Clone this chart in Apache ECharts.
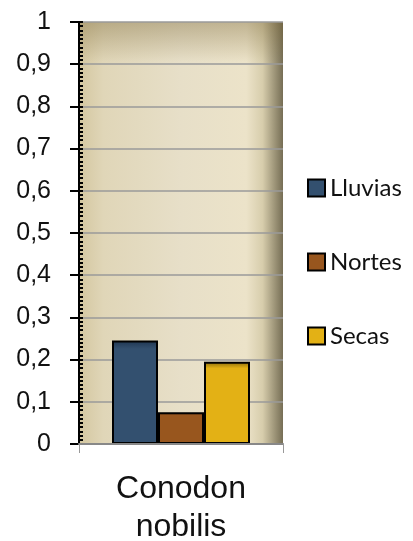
<!DOCTYPE html>
<html>
<head>
<meta charset="utf-8">
<script src="https://cdn.jsdelivr.net/npm/echarts@6/dist/echarts.min.js"></script>
<style>
  html, body { margin: 0; padding: 0; background: #fff; }
  #chart { width: 413px; height: 541px; }
</style>
</head>
<body>
<div id="chart"></div>
<script>
// data
const categories = ["Conodon\nnobilis"];
const seriesNames = ["Lluvias", "Nortes", "Secas"];
const lluvias = [0.245];
const nortes = [0.075];
const secas = [0.195];
const yTicks = [0, 0.1, 0.2, 0.3, 0.4, 0.5, 0.6, 0.7, 0.8, 0.9, 1];

const G = echarts.graphic.LinearGradient;

// bar fill: darker band at the top, like the original bevel
function barFill(top, body) {
  return new G(0, 0, 0, 1, [
    { offset: 0, color: top },
    { offset: 0.08, color: body },
    { offset: 1, color: body },
  ]);
}

const chart = echarts.init(document.getElementById("chart"));

const grid = { left: 79, right: 130, top: 22, bottom: 97 };

const option = {
  animation: false,
  textStyle: { fontFamily: "Liberation Sans, Arial, sans-serif" },
  graphic: [
    {
      // darker band along the top of the plot
      type: "rect",
      z: 0,
      silent: true,
      shape: { x: grid.left, y: grid.top, width: 413 - grid.left - grid.right, height: 40 },
      style: {
        fill: new G(0, 0, 0, 1, [
          { offset: 0, color: "rgba(110,90,40,0.35)" },
          { offset: 1, color: "rgba(110,90,40,0)" },
        ]),
      },
    },
  ],
  grid: {
    ...grid,
    outerBoundsMode: "none",
    containLabel: false,
    show: true,
    borderWidth: 0,
    backgroundColor: new G(0, 0, 1, 0, [
      { offset: 0, color: "#d4c7a0" },
      { offset: 0.12, color: "#e0d6b8" },
      { offset: 0.5, color: "#e7dfc8" },
      { offset: 0.82, color: "#ece3c9" },
      { offset: 0.9, color: "#d7cdac" },
      { offset: 1, color: "#766e55" },
    ]),
  },
  legend: {
    orient: "vertical",
    left: 302,
    top: 171,
    itemGap: 50,
    itemWidth: 17,
    itemHeight: 17,
    icon: "rect",
    data: seriesNames,
    textStyle: { fontFamily: "Lato, sans-serif", fontSize: 24, color: "#111", padding: [0, 0, 0, 0] },
  },
  xAxis: {
    type: "category",
    data: categories,
    axisLine: { lineStyle: { color: "#888", width: 2 } },
    axisTick: { show: true, length: 9, lineStyle: { color: "#999", width: 1 } },
    axisLabel: { fontSize: 32, color: "#111", margin: 26, lineHeight: 38 },
    z: 3,
  },
  yAxis: [
    {
      type: "value",
      min: 0,
      max: 1,
      interval: 0.1,
      axisLine: { show: true, lineStyle: { color: "#000", width: 2 } },
      axisTick: { show: true, length: 9, lineStyle: { color: "#000", width: 2 } },
      axisLabel: {
        fontSize: 25,
        color: "#111",
        margin: 28,
        formatter: (v) => {
          const r = yTicks.find((t) => Math.abs(t - v) < 1e-6);
          return String(r !== undefined ? r : v).replace(".", ",");
        },
      },
      splitLine: { lineStyle: { color: "#9a9a9a", width: 1.5 } },
    },
    {
      // inside ticks + minor ticks
      type: "value",
      min: 0,
      max: 1,
      interval: 0.1,
      position: "left",
      axisLine: { show: true, lineStyle: { color: "#000", width: 2 } },
      axisTick: { show: true, inside: true, length: 4, lineStyle: { color: "#000", width: 2 } },
      minorTick: { show: true, splitNumber: 10, length: 4, lineStyle: { color: "#000", width: 2 } },
      axisLabel: { show: false },
      splitLine: { show: false },
    },
  ],
  series: [
    {
      name: seriesNames[0],
      type: "bar",
      data: lluvias,
      barWidth: 46,
      barGap: "0%",
      itemStyle: { color: barFill("#1f3550", "#33506f"), borderColor: "#000", borderWidth: 2 },
    },
    {
      name: seriesNames[1],
      type: "bar",
      data: nortes,
      barWidth: 46,
      barGap: "0%",
      itemStyle: { color: barFill("#5e3210", "#98561e"), borderColor: "#000", borderWidth: 2 },
    },
    {
      name: seriesNames[2],
      type: "bar",
      data: secas,
      barWidth: 46,
      barGap: "0%",
      itemStyle: { color: barFill("#8a6a0c", "#e3b115"), borderColor: "#000", borderWidth: 2 },
    },
  ],
};

chart.setOption(option);
</script>
</body>
</html>
